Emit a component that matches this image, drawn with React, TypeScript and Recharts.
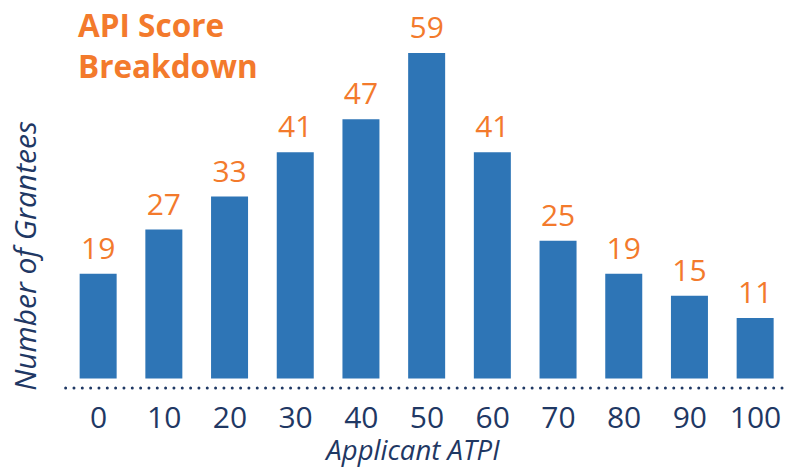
import React from "react";
import { BarChart, Bar, XAxis, YAxis, LabelList } from "recharts";

const categories = ["0", "10", "20", "30", "40", "50", "60", "70", "80", "90", "100"];
const grantees = [19, 27, 33, 41, 47, 59, 41, 25, 19, 15, 11];

const data = categories.map((c, i) => ({ atpi: c, count: grantees[i] }));

const BLUE = "#2E75B6";
const ORANGE = "#F37A2C";
const NAVY = "#1F3864";
const FONT = "'Open Sans', sans-serif";

export default function App() {
  return (
    <div style={{ position: "absolute", left: 0, top: 0, width: 785, height: 470 }}>
      <BarChart
        width={785}
        height={470}
        data={data}
        margin={{ top: 47.5, right: -3.35, bottom: 52, left: 65.65 }}
      >
        <XAxis
          dataKey="atpi"
          height={30}
          tickLine={false}
          tickSize={0}
          tickMargin={19}
          axisLine={{ stroke: NAVY, strokeWidth: 3, strokeDasharray: "0 8.33", strokeLinecap: "round" }}
          tick={{ fill: NAVY, fontSize: 30, fontFamily: FONT }}
          interval={0}
        />
        <YAxis hide domain={[-1.7, 60]} />
        <Bar dataKey="count" fill={BLUE} barSize={37} isAnimationActive={false}>
          <LabelList
            dataKey="count"
            position="top"
            offset={15}
            fill={ORANGE}
            style={{ fontSize: 30, fontFamily: FONT }}
          />
        </Bar>
      </BarChart>
      <svg
        width={785}
        height={470}
        style={{ position: "absolute", left: 0, top: 0, pointerEvents: "none" }}
      >
        <text x={78} y={37} fill={ORANGE} fontFamily={FONT} fontWeight="bold" fontSize={31.5}>
          API Score
        </text>
        <text x={78} y={78} fill={ORANGE} fontFamily={FONT} fontWeight="bold" fontSize={31.5}>
          Breakdown
        </text>
        <text
          x={36}
          y={256}
          transform="rotate(-90 36 256)"
          textAnchor="middle"
          fill={NAVY}
          fontFamily={FONT}
          fontStyle="italic"
          fontSize={30}
        >
          Number of Grantees
        </text>
        <text
          x={413}
          y={460}
          textAnchor="middle"
          fill={NAVY}
          fontFamily={FONT}
          fontStyle="italic"
          fontSize={27.5}
        >
          Applicant ATPI
        </text>
      </svg>
    </div>
  );
}
